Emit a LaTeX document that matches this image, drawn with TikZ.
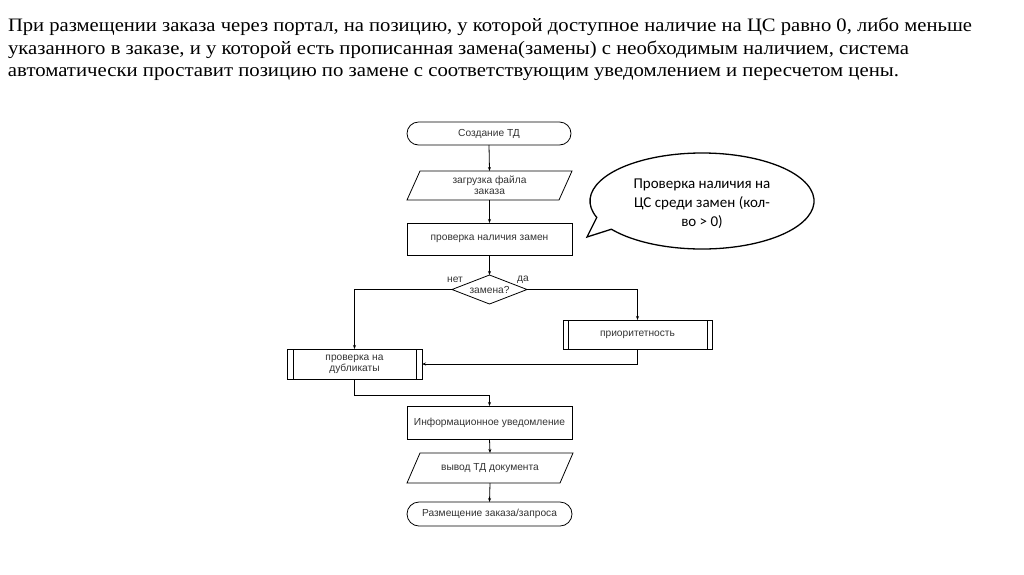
\documentclass[tikz,border=0pt]{standalone}
\usepackage{fontspec}
\setmainfont{Liberation Serif}
\newfontfamily\flowfont{Liberation Sans}
\newfontfamily\callfont{Carlito}
\usetikzlibrary{shapes.geometric,calc,arrows.meta}
\begin{document}
\begin{tikzpicture}[x=1pt,y=-1pt,
  every node/.style={inner sep=0pt, outer sep=0pt},
  line/.style={draw=black, line width=0.8pt},
  arr/.style={line, -{Stealth[length=4pt,width=3pt]}},
  fbox/.style={line, rectangle, font=\flowfont\fontsize{10.2}{11}\selectfont, text=black!80, align=center},
  ftext/.style={font=\flowfont\fontsize{10.2}{11}\selectfont, text=black!80, align=center},
  toptext/.style={anchor=base west, font=\fontsize{19}{22}\selectfont}
]
\useasboundingbox (0,0) rectangle (1024,574);

% top paragraph
\node[toptext] (l1) at (8,31) {\resizebox{964pt}{\height}{При размещении заказа через портал, на позицию, у которой доступное наличие на ЦС равно 0, либо меньше}};
\node[toptext] (l2) at (8,54) {\resizebox{901pt}{\height}{указанного в заказе, и у которой есть прописанная замена(замены) с необходимым наличием, система}};
\node[toptext] (l3) at (8,76) {\resizebox{891pt}{\height}{автоматически проставит позицию по замене с соответствующим уведомлением и пересчетом цены.}};

% flowchart nodes
\node[fbox, rounded corners=11.5pt, minimum width=164pt, minimum height=23pt] (start) at (489,133.5) {Создание ТД};

\node[ftext, minimum width=165pt, minimum height=29pt] (load) at (489.5,185.5) {загрузка файла\\заказа};
\draw[line] ($(load.north west)+(13,0)$) -- (load.north east) -- ($(load.south east)+(-13,0)$) -- (load.south west) -- cycle;

\node[fbox, minimum width=165pt, minimum height=32pt] (check) at (489.5,239) {проверка наличия замен};

\node[fbox, diamond, shape aspect=2.6, minimum width=75pt, minimum height=29pt] (dia) at (489.5,289.5) {замена?};
\node[ftext] (no) at (455,280) {нет};
\node[ftext] (yes) at (523,280) {да};

\node[fbox, minimum width=149pt, minimum height=29pt] (prio) at (637.5,334.5) {приоритетность};
\draw[line] ($(prio.north west)+(5,0)$) -- ($(prio.south west)+(5,0)$);
\draw[line] ($(prio.north east)+(-5,0)$) -- ($(prio.south east)+(-5,0)$);

\node[fbox, minimum width=135pt, minimum height=30pt] (dup) at (354.5,364) {проверка на\\дубликаты};
\draw[line] ($(dup.north west)+(6,0)$) -- ($(dup.south west)+(6,0)$);
\draw[line] ($(dup.north east)+(-6,0)$) -- ($(dup.south east)+(-6,0)$);

\node[fbox, minimum width=165pt, minimum height=33pt] (info) at (489.5,422.5) {Информационное уведомление};

\node[ftext, minimum width=166pt, minimum height=30pt] (out) at (490,468) {вывод ТД документа};
\draw[line] ($(out.north west)+(13,0)$) -- (out.north east) -- ($(out.south east)+(-13,0)$) -- (out.south west) -- cycle;

\node[fbox, rounded corners=12pt, minimum width=165pt, minimum height=24pt] (end) at (489.5,514) {Размещение заказа/запроса};

% connectors
\draw[arr] (start.south) -- (load.north);
\draw[arr] (load.south) -- (check.north);
\draw[arr] (check.south) -- (dia.north);
\draw[arr] (dia.west) -| (dup.north);
\draw[arr] (dia.east) -| (prio.north);
\draw[arr] (prio.south) |- (dup.east);
\draw[arr] (dup.south) -- ++(0,16) -| (info.north);
\draw[arr] (info.south) -- (out.north);
\draw[arr] (out.south) -- (end.north);

% callout
\node[font=\callfont\fontsize{15}{19}\selectfont, align=center] (call) at (702,204) {Проверка наличия на\\ЦС среди замен (кол-\\во > 0)};
\coordinate (cen) at (702,201);
\coordinate (tip) at (587,237);
\draw[line width=1.3pt] ($(cen)+(160:112 and 48)$) arc[start angle=160, end angle=504, x radius=112, y radius=48] -- (tip) -- cycle;
\end{tikzpicture}
\end{document}
